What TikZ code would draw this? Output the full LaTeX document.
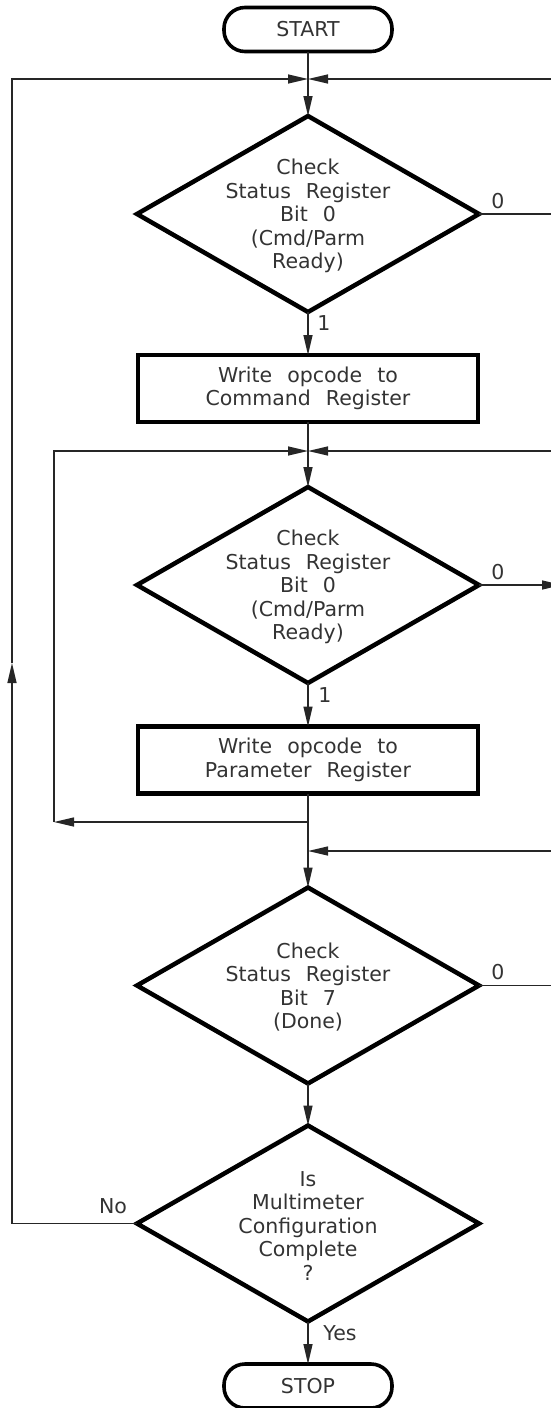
\documentclass[tikz,border=0pt]{standalone}
\usepackage{fontspec}
\setmainfont{DejaVu Sans}[WordSpace=2.3]
\usetikzlibrary{arrows.meta,shapes.geometric}
\begin{document}
\begin{tikzpicture}[x=1pt,y=-1pt,
  font=\fontsize{20.5}{23.5}\selectfont, text=black!80,
  conn/.style={line width=1.3pt, draw=black!85},
  arr/.style={conn,-{Triangle[length=20pt,width=9pt]}},
  dia/.style={draw, line width=4.5pt, diamond, minimum width=342pt, minimum height=196pt, inner sep=0pt, outer sep=0pt},
  procbox/.style={draw, line width=4.5pt, minimum width=340pt, minimum height=67pt, inner sep=0pt, outer sep=0pt, align=center},
  term/.style={draw, line width=3.6pt, rounded corners=21pt, minimum width=168pt, minimum height=44pt, inner sep=0pt, outer sep=0pt},
  txt/.style={align=center, inner sep=0pt},
  lbl/.style={inner sep=0pt}]
\useasboundingbox (0,0) rectangle (551,1408);

\node[term] (start) at (308,29.5) {START};
\node[dia] (d1) at (308,214) {};
\node[txt] (t1) at (308,216) {Check\\Status Register\\Bit 0\\(Cmd/Parm\\Ready)};
\node[procbox] (b1) at (308,388.5) {Write opcode to\\Command Register};
\node[dia] (d2) at (308,585) {};
\node[txt] (t2) at (308,587) {Check\\Status Register\\Bit 0\\(Cmd/Parm\\Ready)};
\node[procbox] (b2) at (308,760) {Write opcode to\\Parameter Register};
\node[dia] (d3) at (308,985.5) {};
\node[txt] (t3) at (308,987) {Check\\Status Register\\Bit 7\\(Done)};
\node[dia] (d4) at (308,1223.5) {};
\node[txt] (t4) at (308,1226) {Is\\Multimeter\\Configuration\\Complete\\?};
\node[term] (stop) at (308,1386) {STOP};

\coordinate (j1) at (308,79);
\coordinate (j1l) at (12,79);
\coordinate (j1r) at (551,79);
\coordinate (o1) at (551,214);
\coordinate (j2) at (308,451);
\coordinate (j2l) at (54,451);
\coordinate (j2r) at (551,451);
\coordinate (o2) at (562,585);
\coordinate (br) at (308,822);
\coordinate (brl) at (54,822);
\coordinate (j3) at (308,851);
\coordinate (j3r) at (551,851);
\coordinate (o3) at (551,985.5);
\coordinate (up) at (12,663);
\coordinate (nol) at (12,1223.5);

\draw[arr] (start.south) -- (d1.north);
\draw[conn] (d4.west) -- (nol);
\draw[arr] (nol) -- (up);
\draw[arr] (up) -- (j1l) -- (j1);
\draw[arr] (j1r) -- (j1);
\draw[conn] (d1.east) -- (o1);
\draw[arr] (d1.south) -- (b1.north);
\draw[arr] (b1.south) -- (d2.north);
\draw[arr] (j2r) -- (j2);
\draw[arr] (br) -- (brl);
\draw[arr] (brl) -- (j2l) -- (j2);
\draw[arr] (d2.east) -- (o2);
\draw[arr] (d2.south) -- (b2.north);
\draw[arr] (b2.south) -- (d3.north);
\draw[arr] (j3r) -- (j3);
\draw[conn] (d3.east) -- (o3);
\draw[arr] (d3.south) -- (d4.north);
\draw[arr] (d4.south) -- (stop.north);

\node[lbl] (z1) at (498,201) {0};
\node[lbl] (z2) at (498,572) {0};
\node[lbl] (z3) at (498,972) {0};
\node[lbl] (one1) at (324,323) {1};
\node[lbl] (one2) at (325,695) {1};
\node[lbl] (no) at (113,1206) {No};
\node[lbl] (yes) at (340,1333) {Yes};
\end{tikzpicture}
\end{document}
